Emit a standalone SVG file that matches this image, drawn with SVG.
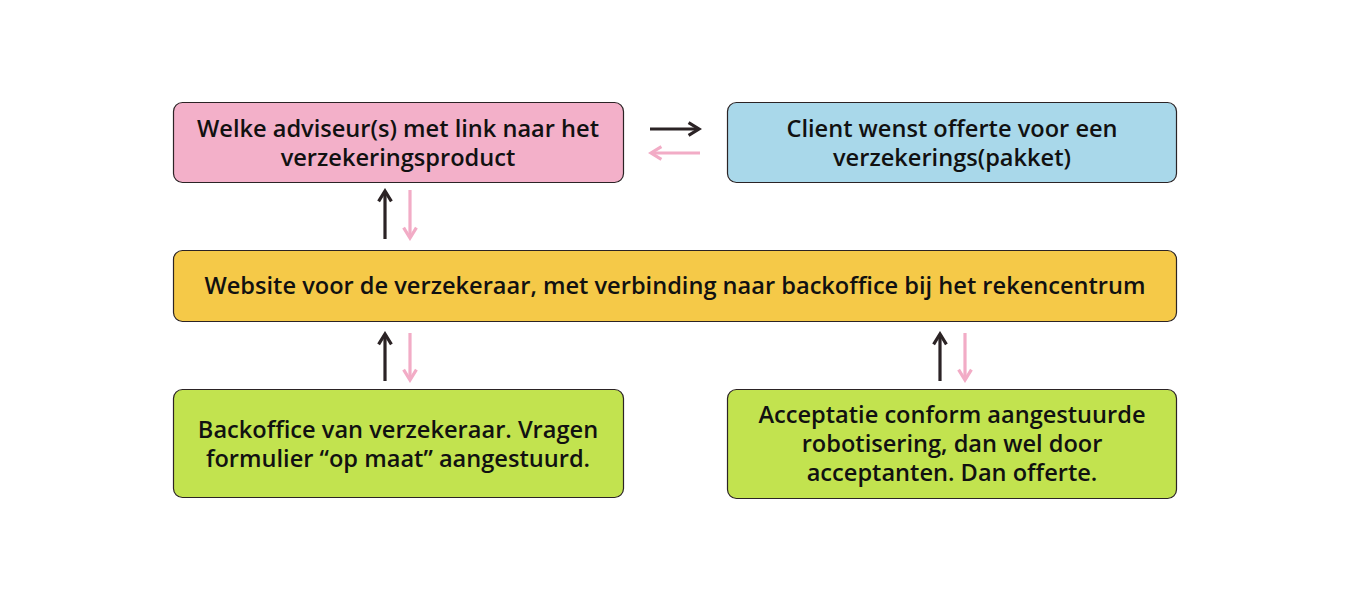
<svg xmlns="http://www.w3.org/2000/svg" width="1350" height="600" viewBox="0 0 1350 600">
<defs>
<style>
.box{stroke:#2b2325;stroke-width:1.2}
.t{font-family:"Open Sans","Noto Sans","DejaVu Sans",sans-serif;font-size:23.6px;font-weight:600;fill:#111;text-anchor:middle}
.dk{stroke:#2b2325;stroke-width:3.2;fill:none}
.pk{stroke:#f2acc6;stroke-width:3.2;fill:none}
</style>
<marker id="hd" viewBox="0 0 10 10" refX="8" refY="5" markerWidth="5" markerHeight="5" orient="auto" markerUnits="strokeWidth"><path d="M1.5,1 L8,5 L1.5,9" fill="none" stroke="#2b2325" stroke-width="2"/></marker>
<marker id="hp" viewBox="0 0 10 10" refX="8" refY="5" markerWidth="5" markerHeight="5" orient="auto" markerUnits="strokeWidth"><path d="M1.5,1 L8,5 L1.5,9" fill="none" stroke="#f2acc6" stroke-width="2"/></marker>
</defs>
<rect width="1350" height="600" fill="#fff"/>
<g id="n1"><rect class="box" x="173.5" y="102.5" width="450" height="80" rx="9" fill="#f3b0c9"/>
<text class="t" x="398" y="137">Welke adviseur(s) met link naar het</text>
<text class="t" x="398" y="166">verzekeringsproduct</text></g>
<g id="n2"><rect class="box" x="727.5" y="102.5" width="449" height="80" rx="9" fill="#a9d8ea"/>
<text class="t" x="952" y="137">Client wenst offerte voor een</text>
<text class="t" x="952" y="166">verzekerings(pakket)</text></g>
<g id="n3"><rect class="box" x="173.5" y="250.5" width="1003" height="71" rx="9" fill="#f5c948"/>
<text class="t" x="675" y="294">Website voor de verzekeraar, met verbinding naar backoffice bij het rekencentrum</text></g>
<g id="n4"><rect class="box" x="173.5" y="389.5" width="450" height="108" rx="9" fill="#c2e34f"/>
<text class="t" x="398" y="438">Backoffice van verzekeraar. Vragen</text>
<text class="t" x="398" y="467">formulier “op maat” aangestuurd.</text></g>
<g id="n5"><rect class="box" x="727.5" y="389.5" width="449" height="109" rx="9" fill="#c2e34f"/>
<text class="t" x="952" y="423">Acceptatie conform aangestuurde</text>
<text class="t" x="952" y="452">robotisering, dan wel door</text>
<text class="t" x="952" y="481">acceptanten. Dan offerte.</text></g>
<g id="connectors">
<line class="dk" x1="650" y1="129" x2="699" y2="129" marker-end="url(#hd)"/>
<line class="pk" x1="700" y1="153" x2="651" y2="153" marker-end="url(#hp)"/>
<line class="dk" x1="385" y1="239" x2="385" y2="191" marker-end="url(#hd)"/>
<line class="pk" x1="410" y1="190" x2="410" y2="238" marker-end="url(#hp)"/>
<line class="dk" x1="385" y1="381" x2="385" y2="334" marker-end="url(#hd)"/>
<line class="pk" x1="410" y1="333" x2="410" y2="380" marker-end="url(#hp)"/>
<line class="dk" x1="940" y1="381" x2="940" y2="334" marker-end="url(#hd)"/>
<line class="pk" x1="965" y1="333" x2="965" y2="380" marker-end="url(#hp)"/>
</g>
</svg>
